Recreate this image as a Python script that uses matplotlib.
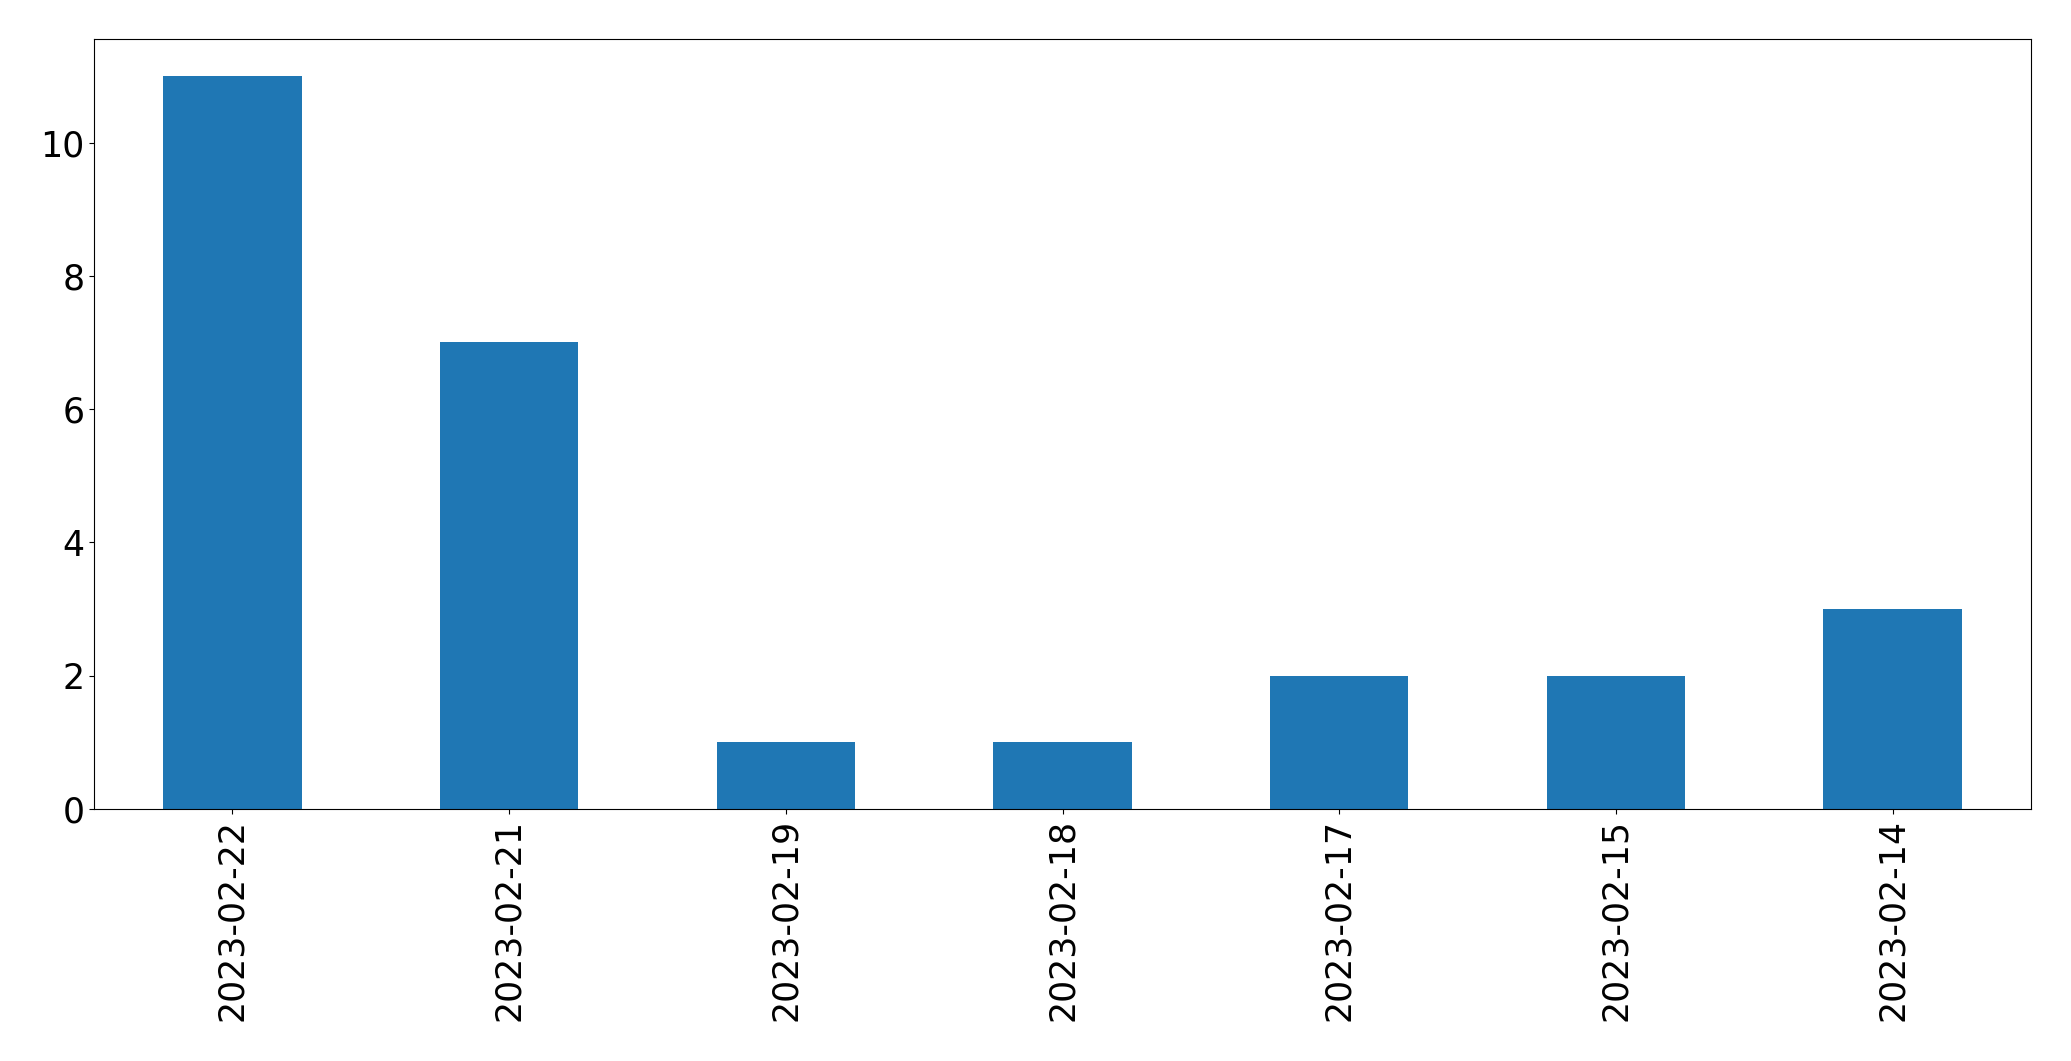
import pandas as pd
import matplotlib
matplotlib.use("Agg")
import matplotlib.pyplot as plt

# daily counts, newest first
dates = ["2023-02-22", "2023-02-21", "2023-02-19", "2023-02-18",
         "2023-02-17", "2023-02-15", "2023-02-14"]
counts = [11, 7, 1, 1, 2, 2, 3]

series = pd.Series(counts, index=dates)

fig, ax = plt.subplots(figsize=(20.71, 10.61), dpi=100)
fig.subplots_adjust(left=0.0454, right=0.9807, top=0.963, bottom=0.2375)

series.plot.bar(ax=ax, fontsize=25)

fig.savefig("out.png", dpi=100)
